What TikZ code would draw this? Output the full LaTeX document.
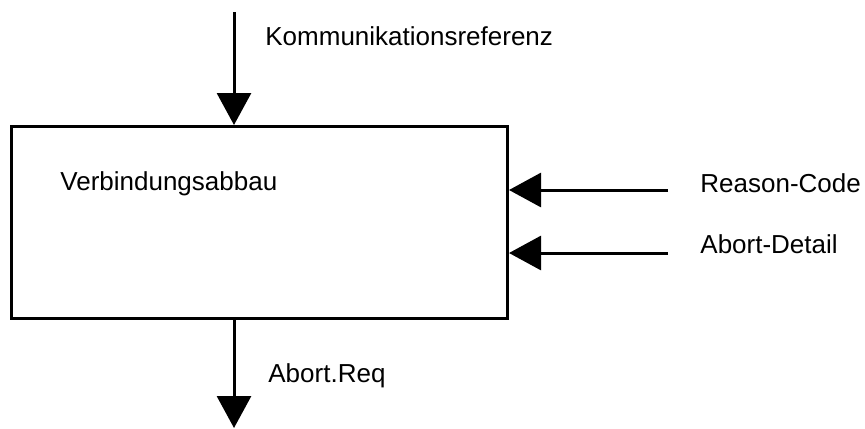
\documentclass[tikz,border=0pt]{standalone}
\usepackage{fontspec}
\setmainfont{Liberation Sans}
\usepackage{tikz}
\usetikzlibrary{arrows.meta, positioning, calc}

\begin{document}
\begin{tikzpicture}[
        x=0.5pt, y=-0.5pt,
        blk/.style={draw=black, line width=1.5pt, minimum width=248pt, minimum height=96pt,
            anchor=north west, inner sep=0pt},
        lbl/.style={anchor=base west, inner sep=0pt, font=\fontsize{13}{15}\selectfont},
        sig/.style={-{Triangle[length=16pt, width=17pt]}, line width=1.5pt, black}
    ]
        \useasboundingbox (0,0) rectangle (865,428);
        \node[blk] (box) at (10,125) {};
        \node[lbl] (boxname) at (60,190) {Verbindungsabbau};
        % Ein- und Ausgaenge
        \coordinate (kref) at (234,12);
        \coordinate (rcode) at (668,190);
        \coordinate (adet) at (668,253);
        \coordinate (areq) at (234,428);
        \node[lbl] (krefl) at (265,45) {Kommunikationsreferenz};
        \node[lbl] (rcodel) at (700,192) {Reason-Code};
        \node[lbl] (adetl) at (700,253) {Abort-Detail};
        \node[lbl] (areql) at (268,382) {Abort.Req};
        \draw[sig] (kref) -- (kref |- box.north);
        \draw[sig] (rcode) -- (rcode -| box.east);
        \draw[sig] (adet) -- (adet -| box.east);
        \draw[sig] (areq |- box.south) -- (areq);
    \end{tikzpicture}
\end{document}
